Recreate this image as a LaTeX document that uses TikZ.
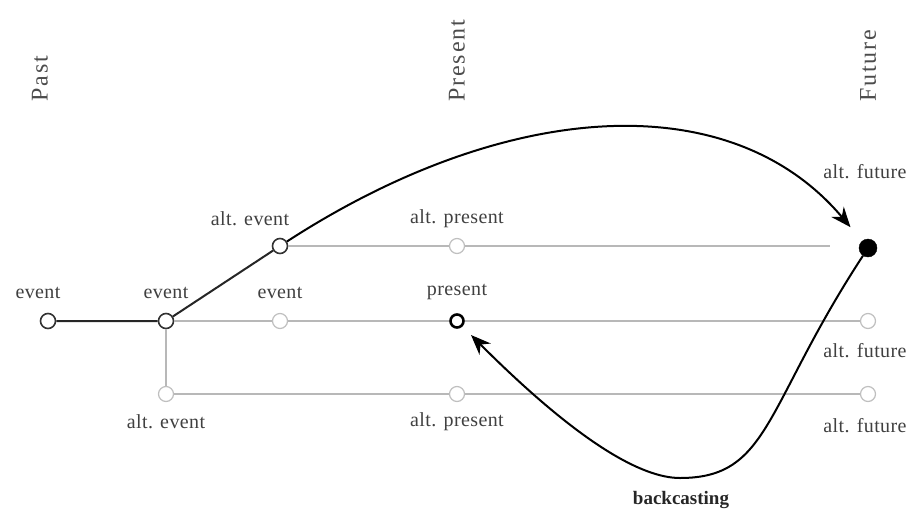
\documentclass[tikz,border=0pt]{standalone}
\usepackage{fontspec}
\setmainfont{Liberation Serif}
\usetikzlibrary{arrows.meta}
\begin{document}
\begin{tikzpicture}[x=1pt,y=-1pt,
  lab/.style={font=\fontsize{20}{24}\selectfont\addfontfeature{LetterSpace=2}, text=black!75, inner sep=0pt},
  head/.style={font=\fontsize{24}{28}\selectfont\addfontfeature{LetterSpace=8}, text=black!70, rotate=90, anchor=west, inner sep=0pt},
  dk/.style={circle, draw=black!80, fill=white, line width=1.6pt, minimum size=15pt, inner sep=0pt},
  lt/.style={circle, draw=black!25, fill=white, line width=1.2pt, minimum size=15pt, inner sep=0pt},
  pres/.style={circle, draw=black, fill=white, line width=2.6pt, minimum size=13pt, inner sep=0pt},
  fut/.style={circle, draw=black, fill=black, minimum size=18pt, inner sep=0pt},
  gline/.style={draw=black!28, line width=1.2pt},
  bline/.style={draw=black!85, line width=2pt},
  arr/.style={draw=black, line width=2pt, -{Stealth[length=20pt,width=16pt]}},
]
\useasboundingbox (0,0) rectangle (913,512);

% headers
\node[head] (hpast) at (40,102) {Past};
\node[head] (hpres) at (457,102) {Present};
\node[head] (hfut) at (868,102) {Future};

% nodes
\node[dk] (e1) at (48,321) {};
\node[dk] (e2) at (166,321) {};
\node[lt] (e3) at (280,321) {};
\node[pres] (pr) at (457,321) {};
\node[lt] (afm) at (868,321) {};
\node[dk] (aet) at (280,246) {};
\node[lt] (apt) at (457,246) {};
\node[fut] (fu) at (868,248) {};
\coordinate (topend) at (830,246);
\node[lt] (aeb) at (166,394) {};
\node[lt] (apb) at (457,394) {};
\node[lt] (afb) at (868,394) {};

% labels
\node[lab] (l1) at (38,293) {event};
\node[lab] (l2) at (166,293) {event};
\node[lab] (l3) at (280,293) {event};
\node[lab] (l4) at (457,292) {present};
\node[lab] (l5) at (250,219) {alt. event};
\node[lab] (l6) at (457,219) {alt. present};
\node[lab] (l7) at (865,172) {alt. future};
\node[lab] (l8) at (865,351) {alt. future};
\node[lab] (l9) at (865,426) {alt. future};
\node[lab] (l10) at (166,422) {alt. event};
\node[lab] (l11) at (457,422) {alt. present};
\node[font=\bfseries\fontsize{19}{22}\selectfont, text=black!85, inner sep=0pt] (bc) at (681,500) {backcasting};

% gray lines
\draw[gline] (aet) -- (apt) -- (topend);
\draw[gline] (e2) -- (e3) -- (pr) -- (afm);
\draw[gline] (e2) -- (aeb);
\draw[gline] (aeb) -- (apb) -- (afb);

% black lines
\draw[bline] (e1) -- (e2) -- (aet);
\draw[arr, shorten >=18pt] (aet) .. controls (505,100) and (730,84) .. (fu);
\draw[arr, shorten >=12pt] (fu) .. controls (764,407) and (770,478) .. (680,478)
  .. controls (642,478) and (579,443) .. (pr);
\end{tikzpicture}
\end{document}
